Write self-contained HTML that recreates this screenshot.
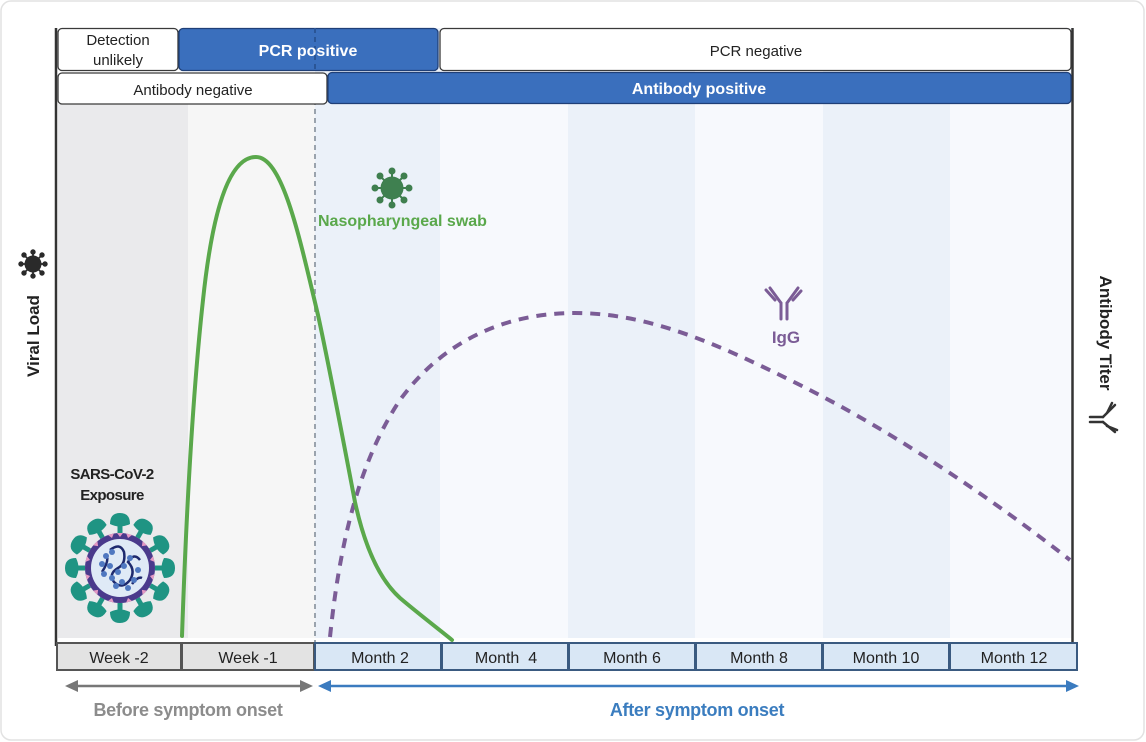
<!DOCTYPE html>
<html><head><meta charset="utf-8"><style>
html,body{margin:0;padding:0;background:#fff;}
svg{display:block;}
text{font-family:"Liberation Sans",sans-serif;}
</style></head><body>
<svg width="1146" height="742" viewBox="0 0 1146 742" xmlns="http://www.w3.org/2000/svg">
<rect x="1" y="1" width="1143" height="739" rx="10" fill="#fff" stroke="#e2e2e2" stroke-width="1.5"/>
<!-- background columns -->
<rect x="58" y="104" width="130" height="534" fill="#eaeaec"/>
<rect x="188" y="104" width="127" height="534" fill="#f6f6f6"/>
<rect x="315" y="28" width="125" height="610" fill="#ebf1f9"/>
<rect x="440" y="28" width="128" height="610" fill="#f7f9fd"/>
<rect x="568" y="28" width="127" height="610" fill="#ebf1f9"/>
<rect x="695" y="28" width="128" height="610" fill="#f7f9fd"/>
<rect x="823" y="28" width="127" height="610" fill="#ebf1f9"/>
<rect x="950" y="28" width="122" height="610" fill="#f7f9fd"/>
<!-- dashed vertical -->
<line x1="315" y1="28" x2="315" y2="642" stroke="#9aa3ad" stroke-width="2" stroke-dasharray="5,4"/>
<!-- axes -->
<line x1="56" y1="28" x2="56" y2="646" stroke="#333" stroke-width="2.5"/>
<line x1="1072.5" y1="28" x2="1072.5" y2="646" stroke="#333" stroke-width="2.5"/>
<!-- top rows -->
<rect x="58" y="28.5" width="120" height="42" rx="4" fill="#fff" stroke="#3a3a3a" stroke-width="1.3"/>
<rect x="179" y="28.5" width="259" height="42" rx="4" fill="#3a6fbd" stroke="#1f3f77" stroke-width="1.3"/>
<rect x="440" y="28.5" width="631" height="42" rx="4" fill="#fff" stroke="#3a3a3a" stroke-width="1.3"/>
<line x1="315" y1="28" x2="315" y2="70" stroke="#2a5596" stroke-width="2" stroke-dasharray="5,4"/>
<rect x="58" y="73" width="269" height="31" rx="4" fill="#fff" stroke="#3a3a3a" stroke-width="1.3"/>
<rect x="328" y="72.5" width="743" height="31" rx="4" fill="#3a6fbd" stroke="#1f3f77" stroke-width="1.3"/>
<text x="118" y="45" font-size="15" text-anchor="middle" fill="#222">Detection</text>
<text x="118" y="65" font-size="15" text-anchor="middle" fill="#222">unlikely</text>
<text x="308" y="56" font-size="16" font-weight="bold" text-anchor="middle" fill="#fff">PCR positive</text>
<text x="756" y="56" font-size="15" text-anchor="middle" fill="#222">PCR negative</text>
<text x="193" y="95" font-size="15" text-anchor="middle" fill="#222">Antibody negative</text>
<text x="699" y="94" font-size="16" font-weight="bold" text-anchor="middle" fill="#fff">Antibody positive</text>
<!-- bottom axis boxes -->
<g stroke-width="2">
<rect x="57" y="643" width="124" height="27" fill="#e3e3e3" stroke="#555"/>
<rect x="182" y="643" width="132" height="27" fill="#e3e3e3" stroke="#555"/>
<rect x="315" y="643" width="126" height="27" fill="#d9e7f5" stroke="#3a5a80"/>
<rect x="442" y="643" width="126" height="27" fill="#d9e7f5" stroke="#3a5a80"/>
<rect x="569" y="643" width="126" height="27" fill="#d9e7f5" stroke="#3a5a80"/>
<rect x="696" y="643" width="126" height="27" fill="#d9e7f5" stroke="#3a5a80"/>
<rect x="823" y="643" width="126" height="27" fill="#d9e7f5" stroke="#3a5a80"/>
<rect x="950" y="643" width="127" height="27" fill="#d9e7f5" stroke="#3a5a80"/>
</g>
<g font-size="16" fill="#222" text-anchor="middle">
<text x="119" y="663">Week -2</text>
<text x="248" y="663">Week -1</text>
<text x="380" y="663">Month 2</text>
<text x="506" y="663">Month&#160; 4</text>
<text x="632" y="663">Month 6</text>
<text x="759" y="663">Month 8</text>
<text x="886" y="663">Month 10</text>
<text x="1014" y="663">Month 12</text>
</g>
<!-- arrows -->
<line x1="72" y1="686" x2="306" y2="686" stroke="#777" stroke-width="2.5"/>
<polygon points="65,686 78,680 78,692" fill="#777"/>
<polygon points="313,686 300,680 300,692" fill="#777"/>
<line x1="324" y1="686" x2="1072" y2="686" stroke="#3b7bbf" stroke-width="2.5"/>
<polygon points="318,686 331,680 331,692" fill="#3b7bbf"/>
<polygon points="1079,686 1066,680 1066,692" fill="#3b7bbf"/>
<text x="188" y="716" font-size="18" font-weight="bold" text-anchor="middle" fill="#8c8c8c" letter-spacing="-0.3">Before symptom onset</text>
<text x="697" y="716" font-size="18" font-weight="bold" text-anchor="middle" fill="#3b7dbf" letter-spacing="-0.3">After symptom onset</text>
<!-- curves -->
<path fill="none" stroke="#7b5c96" stroke-width="4" stroke-dasharray="10,8"
 d="M330,637 C340,540 360,460 400,400 C440,345 500,313 575,313 C650,313 720,345 800,385 C900,435 1000,505 1070,560"/>
<path fill="none" stroke="#5aa84b" stroke-width="4" stroke-linecap="round"
 d="M182,636 C186,520 192,400 203,300 C212,215 228,157 256,157 C283,157 300,240 318,315 C330,370 345,450 355,502 C365,548 380,580 400,598 C420,615 440,630 452,640"/>
<!-- nasopharyngeal virus -->
<g transform="translate(392,188)" fill="#3f7f4f" stroke="#3f7f4f">
<g stroke-width="2">
<line x1="0" y1="0" x2="0" y2="-17"/><line x1="0" y1="0" x2="0" y2="17"/>
<line x1="0" y1="0" x2="17" y2="0"/><line x1="0" y1="0" x2="-17" y2="0"/>
<line x1="0" y1="0" x2="12" y2="12"/><line x1="0" y1="0" x2="-12" y2="12"/>
<line x1="0" y1="0" x2="12" y2="-12"/><line x1="0" y1="0" x2="-12" y2="-12"/>
</g>
<circle r="11" fill="#3f8050"/>
<circle cx="0" cy="-17" r="3"/><circle cx="0" cy="17" r="3"/><circle cx="17" cy="0" r="3"/><circle cx="-17" cy="0" r="3"/>
<circle cx="12" cy="12" r="3"/><circle cx="-12" cy="12" r="3"/><circle cx="12" cy="-12" r="3"/><circle cx="-12" cy="-12" r="3"/>
</g>
<text x="318" y="226" font-size="16" font-weight="bold" fill="#5aa84b">Nasopharyngeal swab</text>
<!-- IgG icon -->
<g stroke="#7b5c96" stroke-width="3" stroke-linecap="round" fill="none">
<line x1="781" y1="303" x2="781" y2="319"/><line x1="787" y1="303" x2="787" y2="319"/>
<line x1="781" y1="303" x2="770" y2="288"/><line x1="775" y1="300" x2="766" y2="290"/>
<line x1="787" y1="303" x2="798" y2="288"/><line x1="793" y1="300" x2="801" y2="291"/>
</g>
<text x="786" y="343" font-size="17" font-weight="bold" text-anchor="middle" fill="#7b5c96">IgG</text>
<!-- Viral load label -->
<text transform="translate(39,336) rotate(-90)" font-size="17" font-weight="bold" text-anchor="middle" fill="#222">Viral Load</text>
<g transform="translate(33,264)" fill="#2a2a2a" stroke="#2a2a2a">
<g stroke-width="1.8">
<line x1="0" y1="0" x2="0" y2="-12"/><line x1="0" y1="0" x2="0" y2="12"/>
<line x1="0" y1="0" x2="12" y2="0"/><line x1="0" y1="0" x2="-12" y2="0"/>
<line x1="0" y1="0" x2="9" y2="9"/><line x1="0" y1="0" x2="-9" y2="9"/>
<line x1="0" y1="0" x2="9" y2="-9"/><line x1="0" y1="0" x2="-9" y2="-9"/>
</g>
<circle r="8"/>
<circle cx="0" cy="-12" r="2.2"/><circle cx="0" cy="12" r="2.2"/><circle cx="12" cy="0" r="2.2"/><circle cx="-12" cy="0" r="2.2"/>
<circle cx="9" cy="9" r="2.2"/><circle cx="-9" cy="9" r="2.2"/><circle cx="9" cy="-9" r="2.2"/><circle cx="-9" cy="-9" r="2.2"/>
</g>
<!-- Antibody titer label -->
<text transform="translate(1100,333) rotate(90)" font-size="17" font-weight="bold" text-anchor="middle" fill="#222">Antibody Titer</text>
<g stroke="#333" stroke-width="2.5" stroke-linecap="round" fill="none">
<line x1="1090" y1="417" x2="1103" y2="417"/><line x1="1090" y1="422" x2="1103" y2="422"/>
<line x1="1103" y1="417" x2="1115" y2="405"/><line x1="1107" y1="413" x2="1112" y2="403"/>
<line x1="1103" y1="422" x2="1115" y2="432"/><line x1="1107" y1="426" x2="1117" y2="430"/>
</g>
<!-- SARS-CoV-2 exposure -->
<text x="112" y="479" font-size="15" font-weight="bold" text-anchor="middle" fill="#222" letter-spacing="-0.6">SARS-CoV-2</text>
<text x="112" y="500" font-size="15" font-weight="bold" text-anchor="middle" fill="#222" letter-spacing="-0.6">Exposure</text>
<g transform="translate(120,568)">
<g fill="#1f9483">
<g id="sp"><rect x="-2.5" y="-45" width="5" height="10"/><path d="M-10,-44 Q-10,-55 0,-55 Q10,-55 10,-44 Q0,-39 -10,-44 Z"/></g>
<use href="#sp" transform="rotate(30)"/><use href="#sp" transform="rotate(60)"/><use href="#sp" transform="rotate(90)"/>
<use href="#sp" transform="rotate(120)"/><use href="#sp" transform="rotate(150)"/><use href="#sp" transform="rotate(180)"/>
<use href="#sp" transform="rotate(210)"/><use href="#sp" transform="rotate(240)"/><use href="#sp" transform="rotate(270)"/>
<use href="#sp" transform="rotate(300)"/><use href="#sp" transform="rotate(330)"/>
</g>
<circle r="35" fill="#4a3a8c"/>
<g fill="#e59ac4">
<g id="tri"><polygon points="-3,-35 3,-35 0,-31"/></g>
<use href="#tri" transform="rotate(15)"/><use href="#tri" transform="rotate(45)"/><use href="#tri" transform="rotate(75)"/>
<use href="#tri" transform="rotate(105)"/><use href="#tri" transform="rotate(135)"/><use href="#tri" transform="rotate(165)"/>
<use href="#tri" transform="rotate(195)"/><use href="#tri" transform="rotate(225)"/><use href="#tri" transform="rotate(255)"/>
<use href="#tri" transform="rotate(285)"/><use href="#tri" transform="rotate(315)"/><use href="#tri" transform="rotate(345)"/>
</g>
<circle r="29" fill="#dfeaf6"/>
<path d="M-10,-18 Q0,-26 4,-16 Q6,-4 -2,0 Q-12,6 -6,14 Q2,22 10,12 Q16,2 8,-6 Q14,-16 20,-8" fill="none" stroke="#1e2a6e" stroke-width="2.5"/>
<path d="M-18,4 Q-10,-8 -14,-14 M12,16 Q18,8 22,10" fill="none" stroke="#1e2a6e" stroke-width="2.5"/>
<g fill="#4f78c0">
<circle cx="-14" cy="-12" r="3"/><circle cx="-8" cy="-16" r="3"/><circle cx="-18" cy="-4" r="3"/><circle cx="-16" cy="6" r="3"/>
<circle cx="-8" cy="10" r="3"/><circle cx="-2" cy="4" r="3"/><circle cx="4" cy="-2" r="3"/><circle cx="2" cy="14" r="3"/>
<circle cx="8" cy="20" r="3"/><circle cx="14" cy="12" r="3"/><circle cx="18" cy="2" r="3"/><circle cx="-4" cy="18" r="3"/>
<circle cx="10" cy="-10" r="3"/><circle cx="-10" cy="-2" r="3"/>
</g>
</g>
</svg>
</body></html>
